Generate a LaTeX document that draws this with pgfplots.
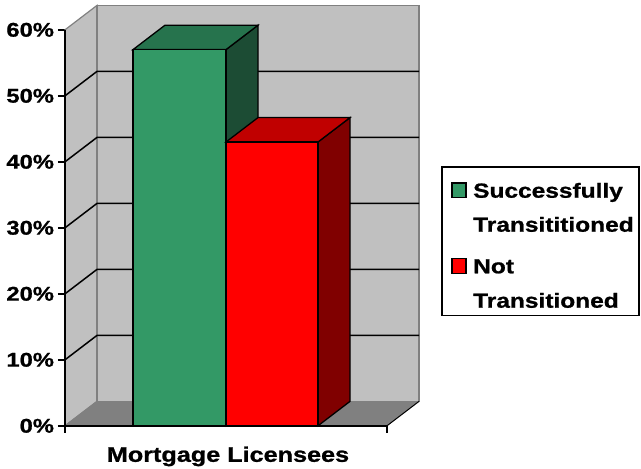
\documentclass[border=0pt]{standalone}
\usepackage{pgfplots}
\pgfplotsset{compat=1.18}
\usepackage{fontspec}
\newfontfamily\chartfont{Liberation Sans}[FakeStretch=1.2, BoldFeatures={FakeBold=1}]
\definecolor{wall}{RGB}{192,192,192}
\definecolor{floorc}{RGB}{128,128,128}
\definecolor{edge}{RGB}{128,128,128}
\definecolor{gfront}{RGB}{51,153,102}
\definecolor{gtop}{RGB}{38,115,77}
\definecolor{gside}{RGB}{28,76,52}
\definecolor{rfront}{RGB}{255,0,0}
\definecolor{rtop}{RGB}{192,0,0}
\definecolor{rside}{RGB}{128,0,0}
\begin{document}
\begin{tikzpicture}
\path[use as bounding box] (0,0) rectangle (641pt,469pt);
\begin{axis}[
  at={(65pt,43.2pt)}, anchor=south west,
  scale only axis, width=355pt, height=420.4pt,
  xmin=65, xmax=420, ymin=0, ymax=63.7,
  axis x line*=bottom, axis y line*=left,
  x axis line style={draw=none}, y axis line style={draw=none},
  xtick={65,387}, xticklabels={,},
  ytick={0,10,20,30,40,50,60},
  yticklabels={0\%,10\%,20\%,30\%,40\%,50\%,60\%},
  tick align=outside, major tick length=7pt,
  tick style={black, line width=1.5pt},
  yticklabel style={font=\chartfont\bfseries\fontsize{19.8}{20}\selectfont, xshift=-0.5pt},
  clip=false, no markers,
]
% side wall
\addplot[fill=wall, draw=edge, line width=1.2pt] coordinates {(65,0) (97,3.7) (97,63.7) (65,60)} -- cycle;
% back wall
\addplot[fill=wall, draw=edge, line width=1.2pt] coordinates {(97,3.7) (419,3.7) (419,63.7) (97,63.7)} -- cycle;
% floor
\addplot[fill=floorc, draw=none] coordinates {(65,0) (387,0) (419,3.7) (97,3.7)} -- cycle;
\addplot[edge, line width=1pt] coordinates {(65,0) (97,3.7)};
\addplot[black, line width=1pt] coordinates {(387,0) (419,3.7)};
% gridlines
\addplot[black, line width=1.5pt] coordinates {(65,10) (97,13.7) (419,13.7)};
\addplot[black, line width=1.5pt] coordinates {(65,20) (97,23.7) (419,23.7)};
\addplot[black, line width=1.5pt] coordinates {(65,30) (97,33.7) (419,33.7)};
\addplot[black, line width=1.5pt] coordinates {(65,40) (97,43.7) (419,43.7)};
\addplot[black, line width=1.5pt] coordinates {(65,50) (97,53.7) (419,53.7)};
% green bar (57%)
\addplot[fill=gside, draw=black, line width=1.3pt] coordinates {(226,0) (258,3.7) (258,60.7) (226,57)} -- cycle;
\addplot[fill=gtop, draw=black, line width=1.3pt] coordinates {(133,57) (226,57) (258,60.7) (165,60.7)} -- cycle;
\addplot[fill=gfront, draw=black, line width=1.3pt] coordinates {(133,0) (226,0) (226,57) (133,57)} -- cycle;
% red bar (43%)
\addplot[fill=rside, draw=black, line width=1.3pt] coordinates {(318,0) (350,3.7) (350,46.7) (318,43)} -- cycle;
\addplot[fill=rtop, draw=black, line width=1.3pt] coordinates {(226,43) (318,43) (350,46.7) (258,46.7)} -- cycle;
\addplot[fill=rfront, draw=black, line width=1.3pt] coordinates {(226,0) (318,0) (318,43) (226,43)} -- cycle;
% front axis lines
\addplot[black, line width=1.8pt] coordinates {(65,60) (65,0) (387,0)};
\node[anchor=base, font=\chartfont\bfseries\fontsize{21}{22}\selectfont] at (axis cs:228,0) [yshift=-36pt] {Mortgage Licensees};
\end{axis}
% legend
\draw[black, line width=1.5pt] (442pt,153.3pt) rectangle (639pt,302pt);
\draw[fill=gfront, draw=black, line width=1.2pt] (452pt,271.3pt) rectangle (466pt,286pt);
\draw[fill=rfront, draw=black, line width=1.2pt] (452pt,195.7pt) rectangle (466pt,210.4pt);
\begin{scope}[every node/.style={anchor=base west, inner sep=0pt, font=\chartfont\bfseries\fontsize{20.4}{22}\selectfont}]
\node at (473pt,271.3pt) {Successfully};
\node at (473pt,237.3pt) {Transititioned};
\node at (473pt,195.7pt) {Not};
\node at (473pt,161.3pt) {Transitioned};
\end{scope}
\end{tikzpicture}
\end{document}
